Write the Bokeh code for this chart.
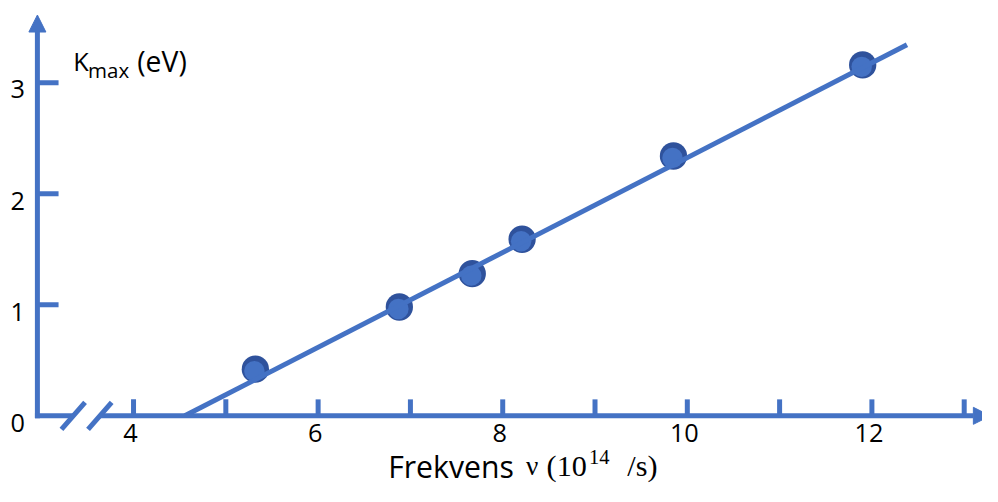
from bokeh.plotting import figure
from bokeh.models import Arrow, NormalHead, Range1d
from bokeh.core.properties import value
from bokeh.embed import file_html
from bokeh.resources import INLINE

# ---------------- data ----------------
freq = [5.32, 6.88, 7.67, 8.21, 9.85, 11.90]        # 10^14 /s
kmax = [0.42, 0.98, 1.28, 1.59, 2.34, 3.16]         # eV
threshold = 4.555                                   # fit line crosses K=0
slope = 0.427                                       # eV per 10^14 /s
fit_end = 12.38
x_ticks = [4, 5, 6, 7, 8, 9, 10, 11, 12, 13]
x_tick_labels = ["4", "6", "8", "10", "12"]
x_label_vals = [4, 6, 8, 10, 12]
y_ticks = [1, 2, 3]
y_label_vals = [0, 1, 2, 3]
y_tick_labels = ["0", "1", "2", "3"]
axis_break = [3.347, 3.635]

# ---------------- layout helpers (reference pixel -> data) ----------------
W, H = 982, 486
REF_W, REF_H = 998, 502
FS = 0.975                       # font scale (figure / reference)
XPX0, XK = -240.0, 93.8
YPX0, YK = 429.0, 114.7


def px_x(px):
    return (px - XPX0) / XK


def px_y(py):
    return (YPX0 - py) / YK


def fs(px):
    return f"{px * FS:.1f}px"


BLUE = "#4472C4"
DARK = "#2F529C"
SANS = value("Open Sans")
SERIF = value("Liberation Serif")

p = figure(width=W, height=H, output_backend="svg", toolbar_location=None,
           x_range=Range1d(px_x(0), px_x(REF_W)),
           y_range=Range1d(px_y(REF_H), px_y(0)),
           x_axis_location=None, y_axis_location=None,
           min_border=0, outline_line_color=None)
p.grid.visible = False
p.background_fill_color = "white"
p.border_fill_color = "white"

xa = px_x(37.5)  # y-axis position
LW = 5

# y axis with arrow
p.add_layout(Arrow(x_start=xa, y_start=px_y(431.5), x_end=xa, y_end=px_y(15),
                   line_color=BLUE, line_width=LW,
                   end=NormalHead(size=17, fill_color=BLUE, line_color=BLUE)))
# x axis: short piece, break, then long piece with arrow
p.line([px_x(35), axis_break[0]], [0, 0], line_color=BLUE, line_width=LW, line_cap="butt")
p.add_layout(Arrow(x_start=axis_break[1], y_start=0, x_end=px_x(1006), y_end=0,
                   line_color=BLUE, line_width=LW,
                   end=NormalHead(size=17, fill_color=BLUE, line_color=BLUE)))
bdx, bdy = 12 / XK, 14 / YK
p.segment(x0=[b - bdx for b in axis_break], y0=[-bdy] * 2,
          x1=[b + bdx for b in axis_break], y1=[bdy] * 2,
          line_color=BLUE, line_width=LW, line_cap="butt")

# ticks
p.segment(x0=x_ticks, y0=[0] * len(x_ticks), x1=x_ticks, y1=[px_y(412)] * len(x_ticks),
          line_color=BLUE, line_width=LW, line_cap="butt")
p.segment(x0=[xa] * len(y_ticks), y0=y_ticks, x1=[px_x(59)] * len(y_ticks), y1=y_ticks,
          line_color=BLUE, line_width=LW, line_cap="butt")

# tick labels
p.text(x=[v - 3 / XK for v in x_label_vals], y=[px_y(447)] * len(x_label_vals),
       text=x_tick_labels, text_font=SANS, text_font_size=fs(26),
       text_align="center", text_baseline="middle", text_color="black")
p.text(x=[px_x(17.5)] * len(y_label_vals), y=[v - 7 / YK for v in y_label_vals],
       text=y_tick_labels, text_font=SANS, text_font_size=fs(26),
       text_align="center", text_baseline="middle", text_color="black")

# data points
p.scatter(freq, kmax, size=28 * FS, fill_color=DARK, line_color=None)
p.scatter([f - 1 / XK for f in freq], [k - 2 / YK for k in kmax], size=21 * FS,
          fill_color=BLUE, line_color=None)

# fit line
p.line([threshold, fit_end], [0, slope * (fit_end - threshold)],
       line_color=BLUE, line_width=LW)

# y-axis title
p.text(x=[px_x(74)], y=[px_y(62)], text=["K"], text_font=SANS, text_font_size=fs(26),
       text_align="left", text_baseline="middle", text_color="black")
p.text(x=[px_x(89)], y=[px_y(72)], text=["max"], text_font=SANS, text_font_size=fs(21),
       text_align="left", text_baseline="middle", text_color="black")
p.text(x=[px_x(139)], y=[px_y(63)], text=["(eV)"], text_font=SANS, text_font_size=fs(29),
       text_align="left", text_baseline="middle", text_color="black")

# x-axis title
ym = px_y(481)
p.text(x=[px_x(394)], y=[ym], text=["Frekvens"], text_font=SANS, text_font_size=fs(31),
       text_align="left", text_baseline="middle", text_color="black")
p.text(x=[px_x(534)], y=[ym], text=["\u03bd"], text_font=SERIF, text_font_size=fs(28),
       text_align="left", text_baseline="middle", text_color="black")
p.text(x=[px_x(555)], y=[ym], text=["(10"], text_font=SERIF, text_font_size=fs(31),
       text_align="left", text_baseline="middle", text_color="black")
p.text(x=[px_x(598)], y=[px_y(472)], text=["14"], text_font=SERIF, text_font_size=fs(21),
       text_align="left", text_baseline="middle", text_color="black")
p.text(x=[px_x(637)], y=[ym], text=["/s)"], text_font=SERIF, text_font_size=fs(31),
       text_align="left", text_baseline="middle", text_color="black")

open("out.html", "w").write(file_html(p, INLINE))
